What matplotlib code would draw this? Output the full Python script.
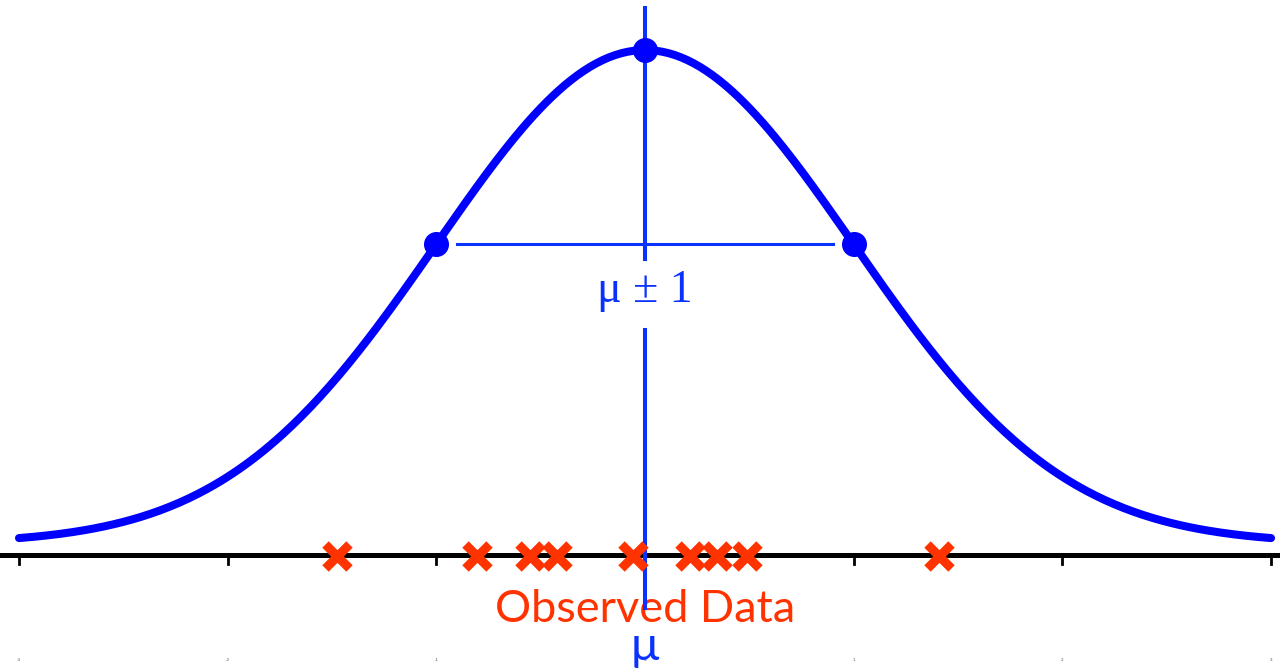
import numpy as np
import matplotlib.pyplot as plt

# gaussian with mean 0, sd 1
mu = 0.0
sigma = 1.0
x_curve = np.linspace(-3, 3, 400)
y_curve = np.exp(-0.5 * ((x_curve - mu) / sigma) ** 2) / (sigma * np.sqrt(2 * np.pi))

# observed data points on the axis
observed = [-1.476, -0.805, -0.551, -0.422, -0.057, 0.216, 0.345, 0.489, 1.409]
ticks = [-3, -2, -1, 0, 1, 2, 3]

blue = '#0000FF'
line_blue = '#0A32FF'
red = '#FF3300'
axis_y = -0.0093

fig = plt.figure(figsize=(12.8, 6.68), dpi=100)
ax = fig.add_axes([0, 0, 1, 1])
ax.set_xlim(-3.091, 3.043)
ax.set_ylim(-0.1006, 0.4394)
ax.axis('off')

# x axis line and ticks
ax.plot([-3.1, 3.1], [axis_y, axis_y], color='black', lw=3.6, solid_capstyle='butt', zorder=2)
for t in ticks:
    ax.plot([t, t], [axis_y, axis_y - 0.007], color='black', lw=2, zorder=2)
    ax.text(t, -0.094, str(t), fontsize=3, color='#555555', ha='center', va='center')

# gaussian curve
ax.plot(x_curve, y_curve, color=blue, lw=5.8, solid_capstyle='round', zorder=3)

pk = 1 / (sigma * np.sqrt(2 * np.pi))
half = np.exp(-0.5) * pk

# vertical line at mu (broken by the labels)
ax.plot([mu, mu], [0.4330, 0.2300], color=line_blue, lw=2.9, zorder=4)
ax.plot([mu, mu], [0.1730, -0.0520], color=line_blue, lw=2.9, zorder=4)
# horizontal line at mu +- sigma
ax.plot([mu - sigma + 0.1, mu + sigma - 0.1], [half, half], color=line_blue, lw=2.2, zorder=4)

# points at the peak and at +- sigma
ax.plot([mu - sigma, mu, mu + sigma], [half, pk, half], 'o', color=blue, ms=17, zorder=5)

# observed data as crosses
ax.plot(observed, [axis_y - 0.001] * len(observed), 'x', color=red, ms=17, mew=6.5, zorder=6)

ax.text(mu, 0.2045, 'μ ± 1', fontsize=33, color=line_blue, ha='center', va='center',
        family='Liberation Serif')
ax.text(mu, -0.0530, 'Observed Data', fontsize=32.5, color=red, ha='center', va='center',
        family='Lato')
ax.text(mu, -0.0840, 'μ', fontsize=34, color=line_blue, ha='center', va='center',
        family='Lato')

plt.savefig('out.png', dpi=100)
